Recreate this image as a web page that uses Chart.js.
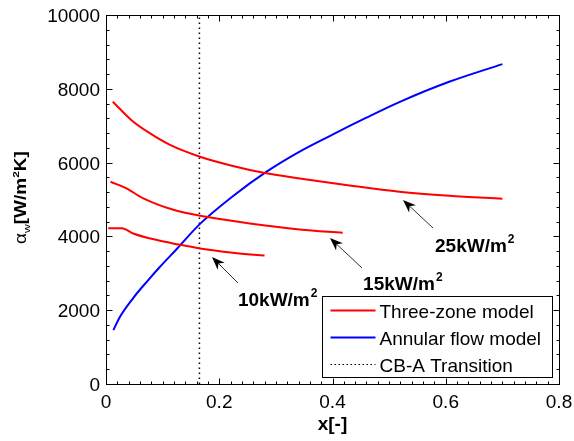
<!DOCTYPE html>
<html>
<head>
<meta charset="utf-8">
<script src="https://cdn.jsdelivr.net/npm/chart.js@4.4.1/dist/chart.umd.min.js"></script>
<style>
  html, body { margin: 0; padding: 0; background: #fff; }
</style>
</head>
<body>
<canvas id="chart" width="574" height="441"></canvas>
<script>
// Three-zone model, 25 kW/m2
const x25 = [0.012, 0.045, 0.078, 0.113, 0.166, 0.224, 0.283, 0.342, 0.43, 0.518, 0.606, 0.70];
const y25 = [7650, 7150, 6790, 6480, 6160, 5910, 5710, 5570, 5380, 5210, 5100, 5020];
// Three-zone model, 15 kW/m2
const x15 = [0.008, 0.036, 0.066, 0.119, 0.177, 0.254, 0.342, 0.418];
const y15 = [5480, 5300, 5030, 4720, 4530, 4350, 4190, 4100];
// Three-zone model, 10 kW/m2
const x10 = [0.004, 0.028, 0.048, 0.09, 0.125, 0.166, 0.224, 0.28];
const y10 = [4220, 4220, 4080, 3900, 3790, 3675, 3560, 3480];
// Annular flow model
const xAnn = [0.013, 0.025, 0.048, 0.072, 0.095, 0.125, 0.166, 0.224, 0.283, 0.342, 0.40, 0.459, 0.518, 0.606, 0.70];
const yAnn = [1460, 1830, 2330, 2770, 3170, 3660, 4340, 5090, 5750, 6300, 6760, 7210, 7640, 8190, 8670];
// CB-A transition
const xTrans = 0.165;

const xTicks = [0, 0.2, 0.4, 0.6, 0.8];
const xTickLabels = ['0', '0.2', '0.4', '0.6', '0.8'];
const yTicks = [0, 2000, 4000, 6000, 8000, 10000];
const yTickLabels = ['0', '2000', '4000', '6000', '8000', '10000'];

const legendNames = ['Three-zone model', 'Annular flow model', 'CB-A Transition'];
const heatFluxLabels = ['25kW/m', '15kW/m', '10kW/m'];

// annotation anchors in data units: text (left, baseline), arrow tail, arrow tip
const notes = [
  {text: heatFluxLabels[0], tx: 0.581, ty: 3577, ax: 0.5775, ay: 4228, bx: 0.5245, by: 4986},
  {text: heatFluxLabels[1], tx: 0.454, ty: 2547, ax: 0.4521, ay: 3144, bx: 0.3956, by: 3957},
  {text: heatFluxLabels[2], tx: 0.233, ty: 2114, ax: 0.2331, ay: 2737, bx: 0.1872, by: 3442}
];

const FONT = "'Liberation Sans', Arial, sans-serif";
const RED = '#ff0000', BLUE = '#0000ff';

const pts = (xs, ys) => xs.map((x, i) => ({x: x, y: ys[i]}));

function arrow(ctx, x1, y1, x2, y2) {
  const ang = Math.atan2(y2 - y1, x2 - x1);
  const len = 13, wid = 5;
  ctx.strokeStyle = '#333';
  ctx.lineWidth = 1;
  ctx.beginPath();
  ctx.moveTo(x1, y1);
  ctx.lineTo(x2 - Math.cos(ang) * len * 0.7, y2 - Math.sin(ang) * len * 0.7);
  ctx.stroke();
  ctx.fillStyle = '#000';
  ctx.beginPath();
  ctx.moveTo(x2, y2);
  ctx.lineTo(x2 - Math.cos(ang) * len + Math.sin(ang) * wid, y2 - Math.sin(ang) * len - Math.cos(ang) * wid);
  ctx.lineTo(x2 - Math.cos(ang) * len * 0.7, y2 - Math.sin(ang) * len * 0.7);
  ctx.lineTo(x2 - Math.cos(ang) * len - Math.sin(ang) * wid, y2 - Math.sin(ang) * len + Math.cos(ang) * wid);
  ctx.closePath();
  ctx.fill();
}

const decor = {
  id: 'decor',
  afterDatasetsDraw(chart) {
    const ctx = chart.ctx;
    const xs = chart.scales.x, ys = chart.scales.y;
    const a = chart.chartArea;
    ctx.save();

    // frame
    ctx.strokeStyle = '#000';
    ctx.lineWidth = 1;
    const L = Math.round(a.left) + 0.5, R = Math.round(a.right) + 0.5;
    const T = Math.round(a.top) + 0.5, B = Math.round(a.bottom) + 0.5;
    ctx.strokeRect(L, T, R - L, B - T);

    // ticks, inside on all four sides
    ctx.beginPath();
    for (let i = 0; i <= 40; i++) {
      const px = Math.round(xs.getPixelForValue(i * 0.02)) + 0.5;
      const len = i % 10 === 0 ? 6 : 3;
      ctx.moveTo(px, B); ctx.lineTo(px, B - len);
      ctx.moveTo(px, T); ctx.lineTo(px, T + len);
    }
    for (let i = 0; i <= 25; i++) {
      const py = Math.round(ys.getPixelForValue(i * 400)) + 0.5;
      const len = i % 5 === 0 ? 6 : 3;
      ctx.moveTo(L, py); ctx.lineTo(L + len, py);
      ctx.moveTo(R, py); ctx.lineTo(R - len, py);
    }
    ctx.stroke();

    // tick labels
    ctx.fillStyle = '#000';
    ctx.font = '19px ' + FONT;
    ctx.textBaseline = 'alphabetic';
    ctx.textAlign = 'center';
    xTicks.forEach((v, i) => ctx.fillText(xTickLabels[i], xs.getPixelForValue(v), a.bottom + 24));
    ctx.textAlign = 'right';
    yTicks.forEach((v, i) => ctx.fillText(yTickLabels[i], a.left - 6, ys.getPixelForValue(v) + 7));

    // x title
    ctx.textAlign = 'center';
    ctx.font = 'bold 19px ' + FONT;
    ctx.fillText('x[-]', (a.left + a.right) / 2, a.bottom + 46);

    // y title, rotated: alpha_w[W/m^2K]
    ctx.save();
    ctx.translate(26, (a.top + a.bottom) / 2 - 2);
    ctx.rotate(-Math.PI / 2);
    ctx.scale(1, 0.82);
    const parts = [
      {t: '\u03b1', f: '19px ' + FONT, dy: 0},
      {t: 'w', f: '12px ' + FONT, dy: 5},
      {t: '[W/m', f: 'bold 19px ' + FONT, dy: 0},
      {t: '2', f: 'bold 12px ' + FONT, dy: -8},
      {t: 'K]', f: 'bold 19px ' + FONT, dy: 0}
    ];
    let total = 0;
    parts.forEach(p => { ctx.font = p.f; p.w = ctx.measureText(p.t).width; total += p.w; });
    let cx = -total / 2;
    ctx.textAlign = 'left';
    parts.forEach(p => { ctx.font = p.f; ctx.fillText(p.t, cx, p.dy); cx += p.w; });
    ctx.restore();

    // heat flux annotations
    notes.forEach(n => {
      arrow(ctx, xs.getPixelForValue(n.ax), ys.getPixelForValue(n.ay),
        xs.getPixelForValue(n.bx), ys.getPixelForValue(n.by));
      const px = xs.getPixelForValue(n.tx), py = ys.getPixelForValue(n.ty);
      ctx.fillStyle = '#000';
      ctx.textAlign = 'left';
      ctx.font = 'bold 19px ' + FONT;
      ctx.fillText(n.text, px, py);
      const w = ctx.measureText(n.text).width;
      ctx.font = 'bold 12px ' + FONT;
      ctx.fillText('2', px + w + 1, py - 9);
    });

    // legend box
    const bx = Math.round(a.right) - 236.5, by = Math.round(a.bottom) - 87.5;
    const bw = 230, bh = 81;
    ctx.fillStyle = '#fff';
    ctx.fillRect(bx, by, bw, bh);
    ctx.strokeStyle = '#000';
    ctx.lineWidth = 1;
    ctx.strokeRect(bx, by, bw, bh);
    const styles = [
      {c: RED, w: 2, d: []},
      {c: BLUE, w: 2, d: []},
      {c: '#000', w: 1.2, d: [1.5, 2.5]}
    ];
    ctx.font = '19px ' + FONT;
    legendNames.forEach((name, i) => {
      const yy = by + 14 + i * 27;
      ctx.strokeStyle = styles[i].c;
      ctx.lineWidth = styles[i].w;
      ctx.setLineDash(styles[i].d);
      ctx.beginPath();
      ctx.moveTo(bx + 8, yy);
      ctx.lineTo(bx + 53, yy);
      ctx.stroke();
      ctx.setLineDash([]);
      ctx.fillStyle = '#000';
      ctx.fillText(name, bx + 57, yy + 7);
    });

    ctx.restore();
  }
};

const redLine = {borderColor: RED, borderWidth: 2, showLine: true, pointRadius: 0, cubicInterpolationMode: 'monotone'};

new Chart(document.getElementById('chart'), {
  type: 'scatter',
  data: {
    datasets: [
      Object.assign({label: legendNames[0], data: pts(x25, y25)}, redLine),
      Object.assign({label: legendNames[0], data: pts(x15, y15)}, redLine),
      Object.assign({label: legendNames[0], data: pts(x10, y10)}, redLine),
      {label: legendNames[1], data: pts(xAnn, yAnn), borderColor: BLUE, borderWidth: 2,
        showLine: true, pointRadius: 0, cubicInterpolationMode: 'monotone'},
      {label: legendNames[2], data: [{x: xTrans, y: 0}, {x: xTrans, y: 10000}], borderColor: '#000',
        borderWidth: 1.5, borderDash: [1.5, 3.5], showLine: true, pointRadius: 0}
    ]
  },
  options: {
    responsive: false,
    animation: false,
    devicePixelRatio: 1,
    layout: {padding: {left: 106, right: 15, top: 15, bottom: 57}},
    scales: {
      x: {type: 'linear', min: 0, max: 0.8, display: false},
      y: {type: 'linear', min: 0, max: 10000, display: false}
    },
    plugins: {legend: {display: false}, tooltip: {enabled: false}}
  },
  plugins: [decor]
});
</script>
</body>
</html>
